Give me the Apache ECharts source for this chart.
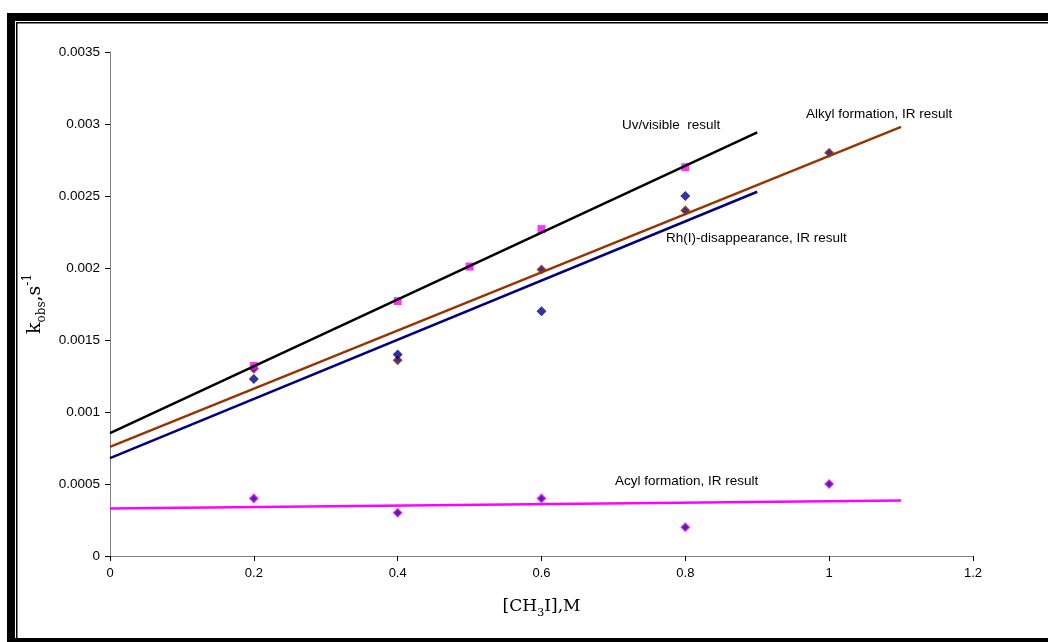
<!DOCTYPE html>
<html>
<head>
<meta charset="utf-8">
<script src="https://cdn.jsdelivr.net/npm/echarts@6/dist/echarts.min.js"></script>
<style>
  html, body { margin: 0; padding: 0; background: #fff; }
  #chart { width: 1048px; height: 642px; }
</style>
</head>
<body>
<div id="chart"></div>
<script>
// Observed rate constants k_obs (s^-1) against [CH3I] (M)
const uvConc = [0.2, 0.4, 0.5, 0.6, 0.8];
const uvRate = [0.00132, 0.00177, 0.00201, 0.00227, 0.0027];

const rhConc = [0.2, 0.4, 0.6, 0.8];
const rhRate = [0.00123, 0.0014, 0.0017, 0.0025];

const alkylConc = [0.2, 0.4, 0.6, 0.8, 1.0];
const alkylRate = [0.0013, 0.00136, 0.00199, 0.0024, 0.0028];

const acylConc = [0.2, 0.4, 0.6, 0.8, 1.0];
const acylRate = [0.0004, 0.0003, 0.0004, 0.0002, 0.0005];

// Range over which each linear trendline is drawn
const uvTrendRange = [0, 0.9];
const rhTrendRange = [0, 0.9];
const alkylTrendRange = [0, 1.1];
const acylTrendRange = [0, 1.1];

const xTicks = [0, 0.2, 0.4, 0.6, 0.8, 1, 1.2];
const yTicks = [0, 0.0005, 0.001, 0.0015, 0.002, 0.0025, 0.003, 0.0035];

const labels = {
  uv: 'Uv/visible  result',
  alkyl: 'Alkyl formation, IR result',
  rh: 'Rh(I)-disappearance, IR result',
  acyl: 'Acyl formation, IR result'
};

function pairs(xs, ys) { return xs.map((x, i) => [x, ys[i]]); }

// Least-squares straight line through the points, evaluated at the range ends
function trendline(xs, ys, range) {
  const n = xs.length;
  const mx = xs.reduce((a, b) => a + b, 0) / n;
  const my = ys.reduce((a, b) => a + b, 0) / n;
  let sxy = 0, sxx = 0;
  for (let i = 0; i < n; i++) {
    sxy += (xs[i] - mx) * (ys[i] - my);
    sxx += (xs[i] - mx) * (xs[i] - mx);
  }
  const slope = sxy / sxx;
  const icpt = my - slope * mx;
  return range.map(x => [x, icpt + slope * x]);
}

const chart = echarts.init(document.getElementById('chart'), null, { renderer: 'canvas' });

const sans = 'Liberation Sans, Arial, sans-serif';
const serif = 'DejaVu Serif, serif';

function lineSeries(data, color) {
  return {
    type: 'line', data: data, symbol: 'none', silent: true,
    lineStyle: { color: color, width: 2.5 }, animation: false, z: 3
  };
}

function textEl(text, left, cy) {
  return {
    type: 'text', left: left, top: cy - 8,
    style: { text: text, font: '13.5px ' + sans, fill: '#000' }
  };
}

chart.setOption({
  backgroundColor: '#fff',
  animation: false,
  grid: { left: 110, right: 75, top: 52, bottom: 86 },
  xAxis: {
    type: 'value', min: 0, max: 1.2, interval: 0.2,
    name: '[CH{sub|3}I],M',
    nameLocation: 'middle', nameGap: 38,
    nameTextStyle: {
      fontFamily: serif, fontSize: 17, color: '#000', lineHeight: 25,
      rich: { sub: { fontFamily: serif, fontSize: 11.5, verticalAlign: 'bottom', lineHeight: 25, color: '#000' } }
    },
    axisLine: { lineStyle: { color: '#808080', width: 1 } },
    axisTick: { show: true, inside: false, length: 5, lineStyle: { color: '#000' } },
    axisLabel: {
      fontFamily: sans, fontSize: 13, color: '#000', margin: 11,
      formatter: v => String(xTicks.find(t => Math.abs(t - v) < 1e-9) ?? v)
    },
    splitLine: { show: false }
  },
  yAxis: {
    type: 'value', min: 0, max: 0.0035, interval: 0.0005,
    name: 'k{sub|obs},s{sup|-1}',
    nameLocation: 'middle', nameGap: 53, nameRotate: 90,
    nameTextStyle: {
      fontFamily: serif, fontSize: 19, color: '#000', lineHeight: 26, verticalAlign: 'middle',
      rich: {
        sub: { fontFamily: serif, fontSize: 12, verticalAlign: 'bottom', lineHeight: 26, color: '#000' },
        sup: { fontFamily: serif, fontSize: 12, verticalAlign: 'top', lineHeight: 26, color: '#000' }
      }
    },
    axisLine: { show: true, lineStyle: { color: '#808080', width: 1 } },
    axisTick: { show: true, inside: false, length: 5, lineStyle: { color: '#000' } },
    axisLabel: {
      fontFamily: sans, fontSize: 13.5, color: '#000', margin: 10,
      formatter: v => String(yTicks.find(t => Math.abs(t - v) < 1e-12) ?? v)
    },
    splitLine: { show: false }
  },
  series: [
    {
      name: 'Alkyl', type: 'scatter', data: pairs(alkylConc, alkylRate),
      symbol: 'diamond', symbolSize: 8, z: 2,
      itemStyle: { color: '#000080', borderColor: '#993300', borderWidth: 1.5 }
    },
    {
      name: 'Rh', type: 'scatter', data: pairs(rhConc, rhRate),
      symbol: 'diamond', symbolSize: 10, z: 2,
      itemStyle: { color: '#000080' }
    },
    {
      name: 'UV', type: 'scatter', data: pairs(uvConc, uvRate),
      symbol: 'rect', symbolSize: 8, z: 2,
      itemStyle: { color: '#ff00ff' }
    },
    {
      name: 'Acyl', type: 'scatter', data: pairs(acylConc, acylRate),
      symbol: 'diamond', symbolSize: 8, z: 2,
      itemStyle: { color: '#000080', borderColor: '#ff00ff', borderWidth: 1.5 }
    },
    lineSeries(trendline(uvConc, uvRate, uvTrendRange), '#000000'),
    lineSeries(trendline(rhConc, rhRate, rhTrendRange), '#000080'),
    lineSeries(trendline(alkylConc, alkylRate, alkylTrendRange), '#993300'),
    lineSeries(trendline(acylConc, acylRate, acylTrendRange), '#ff00ff')
  ],
  graphic: [
    // double frame round the chart
    { type: 'rect', shape: { x: 7, y: 13, width: 1041, height: 8 }, style: { fill: '#000' }, silent: true },
    { type: 'rect', shape: { x: 7, y: 13, width: 8, height: 629 }, style: { fill: '#000' }, silent: true },
    { type: 'rect', shape: { x: 7, y: 638, width: 1041, height: 4 }, style: { fill: '#000' }, silent: true },
    { type: 'rect', shape: { x: 16, y: 22, width: 1032, height: 1.5 }, style: { fill: '#000' }, silent: true },
    { type: 'rect', shape: { x: 16, y: 22, width: 1.5, height: 616 }, style: { fill: '#000' }, silent: true },
    textEl(labels.uv, 622, 126),
    textEl(labels.alkyl, 806, 115),
    textEl(labels.rh, 666, 239),
    textEl(labels.acyl, 615, 482)
  ]
});
</script>
</body>
</html>
